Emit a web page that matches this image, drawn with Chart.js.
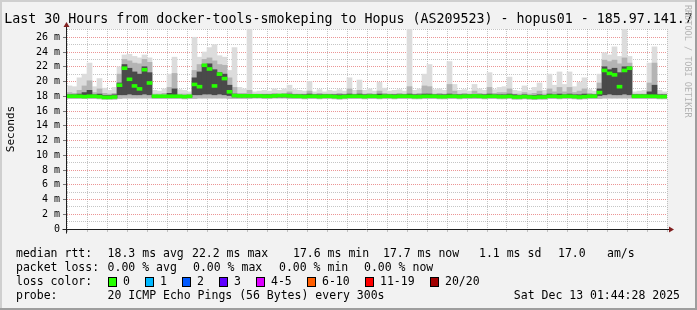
<!DOCTYPE html>
<html lang="en">
<head>
<meta charset="UTF-8">
<title>Smokeping - Hopus</title>
<script src="https://cdn.jsdelivr.net/npm/chart.js"></script>
<style>
  html, body { margin: 0; padding: 0; background: #f2f2f2; }
  canvas { display: block; }
</style>
</head>
<body>
<canvas id="smoke" width="697" height="310"></canvas>
<script>
// time axis: hours relative to Fri 00:00, one sample every 15 minutes
const startHour = -4.25;
const stepHours = 0.25;

// ping smoke (ms), 120 samples
const smokeMax = [
  19.4, 19.3, 20.5, 21.0, 22.5, 19.3, 20.4, 19.1, 18.8, 19.2,
  22.0, 23.6, 23.7, 23.4, 23.2, 23.6, 23.2, 18.8, 18.7, 19.0,
  21.0, 23.3, 18.9, 18.8, 18.6, 26.0, 23.3, 24.0, 24.6, 25.0,
  23.5, 23.3, 21.5, 24.6, 19.2, 19.0, 27.3, 18.6, 18.7, 18.8,
  18.7, 19.0, 18.8, 19.0, 19.5, 18.9, 18.8, 18.7, 20.0, 18.6,
  18.9, 18.6, 18.8, 18.7, 18.9, 18.7, 20.5, 18.8, 20.2, 18.8,
  19.0, 18.7, 19.9, 19.1, 18.7, 18.8, 18.9, 18.7, 27.3, 18.8,
  19.0, 21.0, 22.3, 18.9, 19.0, 18.8, 22.7, 19.6, 18.8, 18.9,
  18.7, 19.6, 19.0, 18.8, 21.2, 18.9, 19.2, 19.3, 20.6, 18.8,
  18.7, 19.4, 18.8, 19.2, 19.8, 18.8, 21.0, 19.5, 21.3, 19.6,
  21.3, 19.3, 19.9, 20.5, 18.9, 18.7, 21.0, 23.9, 23.6, 24.7,
  23.4, 27.3, 23.4, 18.6, 18.7, 18.8, 22.5, 24.7, 18.8, 18.6
];
const midMax = [
  18.5, 18.4, 18.8, 19.4, 20.1, 18.5, 19.0, 18.4, 18.3, 18.4,
  21.0, 23.0, 22.8, 22.5, 22.4, 23.0, 22.6, 18.3, 18.3, 18.4,
  19.2, 21.1, 18.3, 18.3, 18.3, 21.5, 22.3, 23.0, 23.2, 22.8,
  22.3, 22.2, 20.5, 19.2, 18.4, 18.4, 18.8, 18.3, 18.3, 18.3,
  18.3, 18.4, 18.3, 18.4, 18.6, 18.3, 18.3, 18.3, 18.7, 18.3,
  18.4, 18.3, 18.3, 18.3, 18.4, 18.3, 19.0, 18.3, 18.8, 18.3,
  18.4, 18.3, 18.7, 18.4, 18.3, 18.3, 18.4, 18.3, 19.3, 18.3,
  18.4, 19.4, 19.3, 18.3, 18.4, 18.3, 19.6, 18.7, 18.3, 18.4,
  18.3, 18.7, 18.4, 18.3, 19.2, 18.4, 18.5, 18.5, 19.0, 18.3,
  18.3, 18.5, 18.3, 18.4, 18.7, 18.3, 19.0, 18.6, 19.2, 18.6,
  19.2, 18.5, 18.7, 19.0, 18.4, 18.3, 19.8, 22.9, 22.7, 22.9,
  22.4, 23.2, 22.5, 18.3, 18.3, 18.3, 19.8, 22.5, 18.3, 18.3
];
const coreMax = [
  18.2, 18.2, 18.3, 18.5, 18.8, 18.2, 18.3, 18.1, 18.1, 18.2,
  19.8, 22.3, 21.8, 21.3, 21.0, 22.0, 21.2, 18.1, 18.1, 18.1,
  18.4, 19.0, 18.1, 18.1, 18.1, 20.5, 21.3, 22.3, 22.4, 21.6,
  21.2, 21.0, 19.5, 18.3, 18.2, 18.2, 18.2, 18.2, 18.2, 18.2,
  18.2, 18.2, 18.2, 18.2, 18.3, 18.2, 18.2, 18.2, 18.3, 18.2,
  18.2, 18.2, 18.2, 18.2, 18.2, 18.2, 18.3, 18.2, 18.3, 18.2,
  18.2, 18.2, 18.3, 18.2, 18.2, 18.2, 18.2, 18.2, 18.3, 18.2,
  18.2, 18.3, 18.3, 18.2, 18.2, 18.2, 18.3, 18.2, 18.2, 18.2,
  18.2, 18.2, 18.2, 18.2, 18.3, 18.2, 18.2, 18.2, 18.3, 18.2,
  18.1, 18.2, 18.1, 18.1, 18.2, 18.1, 18.3, 18.2, 18.3, 18.2,
  18.3, 18.2, 18.2, 18.3, 18.2, 18.2, 19.0, 22.0, 21.6, 21.8,
  21.2, 22.0, 22.0, 18.2, 18.2, 18.2, 18.6, 19.5, 18.2, 18.2
];
const coreMin = [
  17.9, 17.9, 17.9, 17.9, 17.9, 17.9, 17.9, 17.8, 17.8, 17.8,
  18.2, 18.2, 18.3, 18.2, 18.2, 18.3, 18.2, 17.9, 17.9, 17.9,
  17.9, 17.9, 17.9, 17.9, 17.9, 18.2, 18.2, 18.3, 18.3, 18.2,
  18.3, 18.2, 18.1, 17.9, 17.9, 17.9, 17.9, 17.9, 17.9, 17.9,
  17.9, 17.9, 17.9, 17.9, 17.9, 17.9, 17.9, 17.9, 17.9, 17.9,
  17.9, 17.9, 17.9, 17.9, 17.8, 17.9, 17.9, 17.9, 17.9, 17.9,
  17.9, 17.9, 17.9, 17.9, 17.9, 17.9, 17.9, 17.9, 17.9, 17.9,
  17.9, 17.9, 17.9, 17.9, 17.9, 17.9, 17.9, 17.9, 17.9, 17.9,
  17.9, 17.9, 17.9, 17.9, 17.9, 17.9, 17.9, 17.9, 17.9, 17.8,
  17.8, 17.8, 17.8, 17.8, 17.8, 17.8, 17.9, 17.9, 17.9, 17.9,
  17.9, 17.9, 17.8, 17.9, 17.9, 17.9, 18.1, 18.2, 18.3, 18.2,
  18.2, 18.3, 18.2, 17.9, 17.9, 17.9, 17.9, 17.9, 17.9, 17.9
];
const smokeMin = [
  17.7, 17.7, 17.7, 17.7, 17.7, 17.7, 17.65, 17.6, 17.6, 17.6,
  17.7, 17.75, 17.75, 17.75, 17.75, 17.75, 17.75, 17.7, 17.7, 17.7,
  17.7, 17.7, 17.7, 17.65, 17.7, 17.7, 17.75, 17.75, 17.75, 17.75,
  17.75, 17.75, 17.7, 17.7, 17.7, 17.7, 17.7, 17.75, 17.75, 17.7,
  17.7, 17.75, 17.75, 17.75, 17.7, 17.7, 17.7, 17.65, 17.7, 17.7,
  17.65, 17.7, 17.7, 17.65, 17.6, 17.65, 17.7, 17.7, 17.7, 17.65,
  17.7, 17.7, 17.65, 17.7, 17.7, 17.65, 17.7, 17.7, 17.7, 17.65,
  17.65, 17.7, 17.7, 17.7, 17.65, 17.65, 17.7, 17.7, 17.65, 17.7,
  17.7, 17.7, 17.7, 17.65, 17.7, 17.7, 17.65, 17.65, 17.7, 17.6,
  17.6, 17.65, 17.6, 17.55, 17.6, 17.6, 17.7, 17.7, 17.65, 17.7,
  17.7, 17.65, 17.6, 17.65, 17.7, 17.7, 17.7, 17.75, 17.75, 17.75,
  17.75, 17.75, 17.75, 17.7, 17.7, 17.7, 17.7, 17.7, 17.65, 17.65
];
const medianRtt = [
  18.0, 18.0, 18.0, 17.95, 18.0, 18.0, 17.95, 17.85, 17.85, 17.9,
  19.5, 21.8, 20.3, 19.4, 19.0, 21.6, 19.8, 18.0, 18.0, 18.0,
  18.0, 18.0, 18.0, 17.95, 18.0, 19.6, 19.3, 22.2, 21.7, 19.4,
  21.0, 20.4, 18.6, 18.1, 18.05, 18.05, 18.05, 18.05, 18.05, 18.0,
  18.0, 18.05, 18.1, 18.1, 18.05, 18.0, 18.0, 17.95, 18.0, 18.0,
  17.95, 18.0, 18.0, 17.95, 17.9, 17.95, 18.0, 18.0, 18.0, 17.95,
  18.0, 18.0, 17.95, 18.0, 18.0, 17.95, 18.0, 18.0, 18.0, 17.95,
  17.95, 18.0, 18.0, 18.0, 17.95, 17.95, 18.0, 18.0, 17.95, 18.0,
  18.0, 18.05, 18.0, 17.95, 18.0, 18.0, 17.95, 17.95, 18.0, 17.9,
  17.9, 17.95, 17.9, 17.85, 17.9, 17.9, 18.0, 18.0, 17.95, 18.0,
  18.0, 17.95, 17.9, 17.95, 18.0, 18.0, 18.5, 21.5, 21.1, 20.9,
  19.3, 21.5, 21.8, 18.0, 18.0, 18.0, 18.0, 18.0, 17.95, 17.95
];

const xTickHours = [0, 6, 12, 18, 24];
const xTickLabels = ['Fri 00:00', 'Fri 06:00', 'Fri 12:00', 'Fri 18:00', 'Sat 00:00'];

const titleText = 'Last 30 Hours from docker-tools-smokeping to Hopus (AS209523) - hopus01 - 185.97.141.7';
const rttStats = ['18.3 ms avg', '22.2 ms max', '17.6 ms min', '17.7 ms now', '1.1 ms sd', '17.0', 'am/s'];
const lossStats = ['0.00 % avg', '0.00 % max', '0.00 % min', '0.00 % now'];
const lossLabels = ['0', '1', '2', '3', '4-5', '6-10', '11-19', '20/20'];
const lossColors = ['#26ff00', '#00b8ff', '#0059ff', '#5e00ff', '#dd00ff', '#ff5e00', '#ff0000', '#a10000'];
const probeText = '20 ICMP Echo Pings (56 Bytes) every 300s';
const stampText = 'Sat Dec 13 01:44:28 2025';

const FONT = '"DejaVu Sans Mono", monospace';
const GRID = 'rgba(140,140,140,0.5)';
const MGRID = 'rgba(222,79,79,0.6)';

const hourOf = i => startHour + stepHours * (i + 0.5);
const band = (lo, hi) => lo.map((v, i) => ({ x: hourOf(i), y: [v, hi[i]] }));

// background, frame, axes and all the rrdtool style text
const rrdFrame = {
  id: 'rrdFrame',
  beforeDraw(chart) {
    const c = chart.ctx, a = chart.chartArea;
    c.save();
    c.fillStyle = '#f2f2f2';
    c.fillRect(0, 0, chart.width, chart.height);
    c.fillStyle = '#cfcfcf';
    c.fillRect(0, 0, chart.width, 2);
    c.fillRect(0, 0, 2, chart.height);
    c.fillStyle = '#9e9e9e';
    c.fillRect(0, chart.height - 2, chart.width, 2);
    c.fillRect(chart.width - 2, 0, 2, chart.height);
    c.fillStyle = '#ffffff';
    c.fillRect(a.left, a.top, a.right - a.left, a.bottom - a.top);
    c.restore();
  },
  afterDraw(chart) {
    const c = chart.ctx, a = chart.chartArea;
    const x0 = a.left - 0.5, y0 = a.bottom + 0.5;
    c.save();
    // axes
    c.strokeStyle = '#1f1f1f';
    c.lineWidth = 1;
    c.beginPath();
    c.moveTo(x0 - 4, y0); c.lineTo(a.right + 4, y0);
    c.moveTo(x0, y0 + 4); c.lineTo(x0, a.top - 4);
    c.stroke();
    c.fillStyle = '#801f1f';
    c.beginPath();
    c.moveTo(a.right + 2, y0 - 3); c.lineTo(a.right + 2, y0 + 3); c.lineTo(a.right + 7, y0);
    c.closePath(); c.fill();
    c.beginPath();
    c.moveTo(x0 - 3, a.top - 2); c.lineTo(x0 + 3, a.top - 2); c.lineTo(x0, a.top - 7);
    c.closePath(); c.fill();

    // title
    c.fillStyle = '#000';
    c.font = '13.3px ' + FONT;
    c.textAlign = 'center';
    c.textBaseline = 'alphabetic';
    c.fillText(titleText, chart.width / 2, 23);

    // vertical unit label
    c.save();
    c.translate(11, (a.top + a.bottom) / 2);
    c.rotate(-Math.PI / 2);
    c.font = '11px ' + FONT;
    c.textBaseline = 'middle';
    c.fillText('Seconds', 0, 0);
    c.restore();

    // legend rows
    c.font = '11.5px ' + FONT;
    c.textAlign = 'left';
    c.textBaseline = 'middle';
    const rows = [254, 268, 282, 296];
    c.fillText('median rtt:', 16, rows[0]);
    [107.6, 192, 293, 383, 479, 558, 607].forEach((x, k) => c.fillText(rttStats[k], x, rows[0]));
    c.fillText('packet loss:', 16, rows[1]);
    [107.6, 193, 279, 364].forEach((x, k) => c.fillText(lossStats[k], x, rows[1]));
    c.fillText('loss color:', 16, rows[2]);
    [108, 145, 182, 219, 256, 307, 365, 430].forEach((x, k) => {
      c.fillStyle = lossColors[k];
      c.fillRect(x, rows[2] - 4.5, 8, 9);
      c.strokeStyle = '#000';
      c.strokeRect(x + 0.5, rows[2] - 4.5, 8, 9);
      c.fillStyle = '#000';
      c.fillText(lossLabels[k], x + 15, rows[2]);
    });
    c.fillText('probe:', 16, rows[3]);
    c.fillText(probeText, 107.6, rows[3]);
    c.textAlign = 'right';
    c.fillText(stampText, 680, rows[3]);

    // watermark
    c.translate(chart.width - 10, 5);
    c.rotate(Math.PI / 2);
    c.font = '8.5px ' + FONT;
    c.fillStyle = '#b4b4b4';
    c.textAlign = 'left';
    c.fillText('RRDTOOL / TOBI OETIKER', 0, 0);
    c.restore();
  }
};

new Chart(document.getElementById('smoke'), {
  type: 'bar',
  data: {
    datasets: [
      { label: 'median', data: medianRtt.map((m, i) => ({ x: hourOf(i), y: [m - 0.2, m + 0.2] })), backgroundColor: '#26ff00', clip: 0 },
      { label: 'core', data: band(coreMin, coreMax), backgroundColor: '#4a4a4a', clip: 0 },
      { label: 'mid', data: band(smokeMin, midMax), backgroundColor: '#b4b4b4', clip: 0 },
      { label: 'smoke', data: band(smokeMin, smokeMax), backgroundColor: '#dcdcdc', clip: 0 }
    ]
  },
  options: {
    responsive: false,
    animation: false,
    events: [],
    layout: { padding: { top: 29, right: 30, bottom: 0, left: 0 } },
    datasets: { bar: { grouped: false, barPercentage: 1, categoryPercentage: 1, borderWidth: 0 } },
    plugins: { legend: { display: false }, tooltip: { enabled: false } },
    scales: {
      x: {
        type: 'linear',
        min: startHour,
        max: startHour + 30,
        offset: false,
        afterFit: s => { s.height = 81; },
        grid: {
          offset: false,
          color: c => c.tick.value % 3 === 0 ? MGRID : GRID,
          tickColor: c => c.tick.value % 3 === 0 ? MGRID : GRID,
          tickLength: 3
        },
        border: { display: false, dash: [1, 1] },
        ticks: {
          stepSize: 1,
          includeBounds: false,
          autoSkip: false,
          maxRotation: 0,
          padding: -2,
          color: '#000',
          font: { family: FONT, size: 10 },
          callback: v => {
            const k = xTickHours.indexOf(v);
            return k < 0 ? '' : xTickLabels[k];
          }
        }
      },
      y: {
        min: 0,
        max: 27.12,
        afterFit: s => { s.width = 67; },
        grid: {
          color: c => c.tick.value % 2 === 0 ? MGRID : GRID,
          tickColor: c => c.tick.value % 2 === 0 ? '#777' : 'rgba(0,0,0,0)',
          tickLength: 4
        },
        border: { display: false, dash: [1, 1] },
        ticks: {
          stepSize: 1,
          includeBounds: false,
          autoSkip: false,
          maxTicksLimit: 1000,
          padding: 3,
          color: '#000',
          font: { family: FONT, size: 10 },
          callback: v => v % 2 !== 0 ? '' : (v === 0 ? '0' : v + ' m')
        }
      }
    }
  },
  plugins: [rrdFrame]
});
</script>
</body>
</html>
